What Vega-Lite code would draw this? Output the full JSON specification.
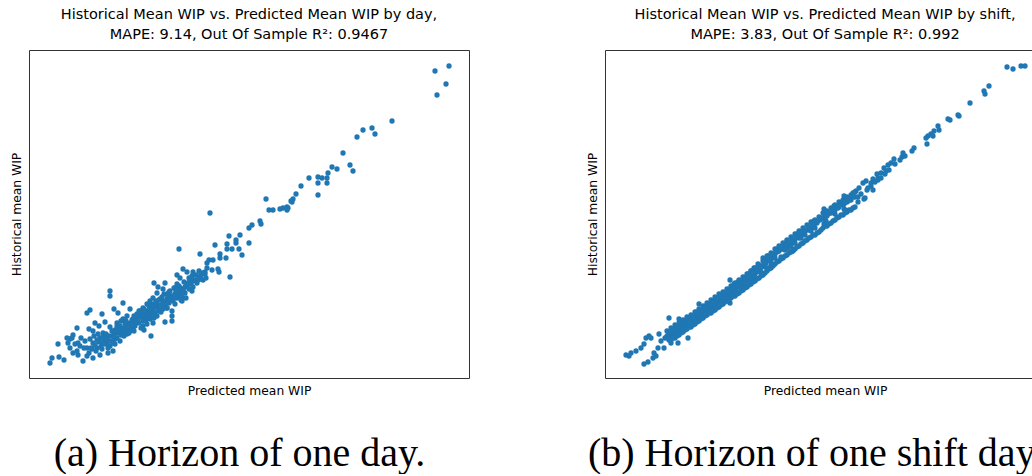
{
  "$schema": "https://vega.github.io/schema/vega-lite/v6.json",
  "background": "white",
  "padding": {"left": 9, "top": 6, "right": 0, "bottom": 0},
  "config": {
    "font": "DejaVu Sans",
    "view": {"stroke": "#333333", "strokeWidth": 1},
    "axis": {"labels": false, "ticks": false, "domain": false, "grid": false, "titleFont": "DejaVu Sans", "titleFontSize": 12.3, "titleFontWeight": "normal", "titleColor": "#000000", "titlePadding": 6},
    "title": {"font": "DejaVu Sans", "fontSize": 14.5, "fontWeight": "normal", "color": "#000000"},
    "concat": {"spacing": 115}
  },
  "datasets": {
    "day": [
      {"predicted": 406, "historical": 307}, {"predicted": 420, "historical": 312}, {"predicted": 417, "historical": 294}, {"predicted": 408, "historical": 283},
      {"predicted": 363, "historical": 257}, {"predicted": 328, "historical": 241}, {"predicted": 334, "historical": 248}, {"predicted": 343, "historical": 250},
      {"predicted": 346, "historical": 244}, {"predicted": 314, "historical": 225}, {"predicted": 321, "historical": 213}, {"predicted": 324, "historical": 207},
      {"predicted": 303, "historical": 211}, {"predicted": 308, "historical": 209}, {"predicted": 299, "historical": 205}, {"predicted": 280, "historical": 200},
      {"predicted": 289, "historical": 201}, {"predicted": 293, "historical": 200}, {"predicted": 298, "historical": 200}, {"predicted": 289, "historical": 195},
      {"predicted": 298, "historical": 195}, {"predicted": 272, "historical": 192}, {"predicted": 289, "historical": 183}, {"predicted": 267, "historical": 184},
      {"predicted": 264, "historical": 179}, {"predicted": 262, "historical": 177}, {"predicted": 237, "historical": 179}, {"predicted": 240, "historical": 168},
      {"predicted": 244, "historical": 168}, {"predicted": 251, "historical": 169}, {"predicted": 254, "historical": 170}, {"predicted": 258, "historical": 171},
      {"predicted": 259, "historical": 170}, {"predicted": 181, "historical": 165}, {"predicted": 258, "historical": 168}, {"predicted": 263, "historical": 176},
      {"predicted": 231, "historical": 157}, {"predicted": 232, "historical": 154}, {"predicted": 223, "historical": 153}, {"predicted": 220, "historical": 150},
      {"predicted": 211, "historical": 143}, {"predicted": 200, "historical": 142}, {"predicted": 207, "historical": 138}, {"predicted": 207, "historical": 135},
      {"predicted": 198, "historical": 134}, {"predicted": 198, "historical": 129}, {"predicted": 203, "historical": 129}, {"predicted": 210, "historical": 129},
      {"predicted": 213, "historical": 123}, {"predicted": 220, "historical": 135}, {"predicted": 186, "historical": 133}, {"predicted": 191, "historical": 124},
      {"predicted": 191, "historical": 120}, {"predicted": 184, "historical": 118}, {"predicted": 180, "historical": 118}, {"predicted": 178, "historical": 115},
      {"predicted": 197, "historical": 120}, {"predicted": 171, "historical": 124}, {"predicted": 150, "historical": 129}, {"predicted": 183, "historical": 108},
      {"predicted": 189, "historical": 109}, {"predicted": 190, "historical": 106}, {"predicted": 201, "historical": 101}, {"predicted": 176, "historical": 104},
      {"predicted": 172, "historical": 99}, {"predicted": 170, "historical": 107}, {"predicted": 164, "historical": 106}, {"predicted": 154, "historical": 109},
      {"predicted": 158, "historical": 106}, {"predicted": 148, "historical": 103}, {"predicted": 151, "historical": 100}, {"predicted": 162, "historical": 97},
      {"predicted": 164, "historical": 97}, {"predicted": 158, "historical": 94}, {"predicted": 148, "historical": 94}, {"predicted": 146, "historical": 90},
      {"predicted": 151, "historical": 90}, {"predicted": 154, "historical": 89}, {"predicted": 163, "historical": 87}, {"predicted": 136, "historical": 95},
      {"predicted": 125, "historical": 95}, {"predicted": 134, "historical": 89}, {"predicted": 141, "historical": 87}, {"predicted": 129, "historical": 91},
      {"predicted": 128, "historical": 85}, {"predicted": 138, "historical": 84}, {"predicted": 143, "historical": 82}, {"predicted": 148, "historical": 82},
      {"predicted": 153, "historical": 77}, {"predicted": 154, "historical": 80}, {"predicted": 144, "historical": 79}, {"predicted": 138, "historical": 77},
      {"predicted": 131, "historical": 79}, {"predicted": 124, "historical": 80}, {"predicted": 121, "historical": 77}, {"predicted": 128, "historical": 74},
      {"predicted": 134, "historical": 74}, {"predicted": 138, "historical": 70}, {"predicted": 143, "historical": 67}, {"predicted": 134, "historical": 69},
      {"predicted": 124, "historical": 70}, {"predicted": 118, "historical": 74}, {"predicted": 114, "historical": 70}, {"predicted": 111, "historical": 67},
      {"predicted": 118, "historical": 67}, {"predicted": 123, "historical": 64}, {"predicted": 109, "historical": 62}, {"predicted": 114, "historical": 60},
      {"predicted": 121, "historical": 59}, {"predicted": 124, "historical": 55}, {"predicted": 136, "historical": 56}, {"predicted": 143, "historical": 57},
      {"predicted": 143, "historical": 62}, {"predicted": 101, "historical": 69}, {"predicted": 94, "historical": 75}, {"predicted": 81, "historical": 87},
      {"predicted": 81, "historical": 82}, {"predicted": 85, "historical": 69}, {"predicted": 89, "historical": 65}, {"predicted": 98, "historical": 62},
      {"predicted": 104, "historical": 59}, {"predicted": 101, "historical": 55}, {"predicted": 106, "historical": 54}, {"predicted": 114, "historical": 52},
      {"predicted": 115, "historical": 48}, {"predicted": 122, "historical": 42}, {"predicted": 94, "historical": 59}, {"predicted": 88, "historical": 55},
      {"predicted": 91, "historical": 52}, {"predicted": 98, "historical": 50}, {"predicted": 94, "historical": 47}, {"predicted": 89, "historical": 45},
      {"predicted": 98, "historical": 44}, {"predicted": 101, "historical": 47}, {"predicted": 104, "historical": 49}, {"predicted": 81, "historical": 51},
      {"predicted": 76, "historical": 56}, {"predicted": 73, "historical": 64}, {"predicted": 61, "historical": 68}, {"predicted": 58, "historical": 65},
      {"predicted": 48, "historical": 50}, {"predicted": 60, "historical": 49}, {"predicted": 64, "historical": 47}, {"predicted": 74, "historical": 45},
      {"predicted": 71, "historical": 40}, {"predicted": 78, "historical": 39}, {"predicted": 83, "historical": 42}, {"predicted": 88, "historical": 40},
      {"predicted": 91, "historical": 37}, {"predicted": 86, "historical": 34}, {"predicted": 81, "historical": 32}, {"predicted": 84, "historical": 27},
      {"predicted": 79, "historical": 25}, {"predicted": 73, "historical": 29}, {"predicted": 68, "historical": 30}, {"predicted": 64, "historical": 35},
      {"predicted": 61, "historical": 39}, {"predicted": 56, "historical": 37}, {"predicted": 58, "historical": 30}, {"predicted": 63, "historical": 29},
      {"predicted": 71, "historical": 23}, {"predicted": 64, "historical": 20}, {"predicted": 58, "historical": 22}, {"predicted": 54, "historical": 17},
      {"predicted": 49, "historical": 23}, {"predicted": 48, "historical": 27}, {"predicted": 44, "historical": 25}, {"predicted": 41, "historical": 30},
      {"predicted": 46, "historical": 34}, {"predicted": 49, "historical": 35}, {"predicted": 51, "historical": 32}, {"predicted": 41, "historical": 39},
      {"predicted": 38, "historical": 40}, {"predicted": 39, "historical": 35}, {"predicted": 44, "historical": 43}, {"predicted": 43, "historical": 40},
      {"predicted": 29, "historical": 34}, {"predicted": 30, "historical": 21}, {"predicted": 35, "historical": 18}, {"predicted": 23, "historical": 20},
      {"predicted": 21, "historical": 15},
      {"predicted": 62, "historical": 30}, {"predicted": 66, "historical": 33}, {"predicted": 70, "historical": 36}, {"predicted": 72, "historical": 31},
      {"predicted": 75, "historical": 38}, {"predicted": 78, "historical": 35}, {"predicted": 80, "historical": 42}, {"predicted": 82, "historical": 37},
      {"predicted": 85, "historical": 44}, {"predicted": 87, "historical": 40}, {"predicted": 90, "historical": 47}, {"predicted": 92, "historical": 43},
      {"predicted": 95, "historical": 50}, {"predicted": 97, "historical": 46}, {"predicted": 100, "historical": 53}, {"predicted": 102, "historical": 49},
      {"predicted": 104, "historical": 56}, {"predicted": 106, "historical": 52}, {"predicted": 108, "historical": 58}, {"predicted": 110, "historical": 55},
      {"predicted": 112, "historical": 61}, {"predicted": 114, "historical": 57}, {"predicted": 116, "historical": 64}, {"predicted": 118, "historical": 60},
      {"predicted": 120, "historical": 66}, {"predicted": 122, "historical": 62}, {"predicted": 124, "historical": 68}, {"predicted": 126, "historical": 65},
      {"predicted": 128, "historical": 71}, {"predicted": 130, "historical": 67}, {"predicted": 132, "historical": 73}, {"predicted": 134, "historical": 77},
      {"predicted": 136, "historical": 72}, {"predicted": 138, "historical": 79}, {"predicted": 140, "historical": 75}, {"predicted": 142, "historical": 81},
      {"predicted": 144, "historical": 77}, {"predicted": 146, "historical": 84}, {"predicted": 148, "historical": 80}, {"predicted": 150, "historical": 86},
      {"predicted": 152, "historical": 82}, {"predicted": 154, "historical": 88}, {"predicted": 156, "historical": 85}, {"predicted": 158, "historical": 92},
      {"predicted": 160, "historical": 89}, {"predicted": 162, "historical": 94}, {"predicted": 164, "historical": 91}, {"predicted": 166, "historical": 98},
      {"predicted": 168, "historical": 95}, {"predicted": 170, "historical": 101}, {"predicted": 172, "historical": 103}, {"predicted": 174, "historical": 98},
      {"predicted": 176, "historical": 106}, {"predicted": 178, "historical": 110}, {"predicted": 112, "historical": 50}, {"predicted": 118, "historical": 54},
      {"predicted": 125, "historical": 60}, {"predicted": 100, "historical": 45}, {"predicted": 95, "historical": 42}, {"predicted": 105, "historical": 47},
      {"predicted": 88, "historical": 52}, {"predicted": 92, "historical": 57}, {"predicted": 108, "historical": 64}, {"predicted": 115, "historical": 69},
      {"predicted": 130, "historical": 78}, {"predicted": 135, "historical": 84}, {"predicted": 145, "historical": 90}, {"predicted": 150, "historical": 92},
      {"predicted": 155, "historical": 96}, {"predicted": 160, "historical": 100}, {"predicted": 140, "historical": 86}, {"predicted": 125, "historical": 74},
      {"predicted": 120, "historical": 72}, {"predicted": 110, "historical": 67}, {"predicted": 85, "historical": 38}, {"predicted": 78, "historical": 40},
      {"predicted": 68, "historical": 38}, {"predicted": 74, "historical": 41}, {"predicted": 96, "historical": 54}, {"predicted": 103, "historical": 58},
      {"predicted": 128, "historical": 62}, {"predicted": 132, "historical": 66}, {"predicted": 138, "historical": 70}, {"predicted": 146, "historical": 74},
      {"predicted": 152, "historical": 78}, {"predicted": 157, "historical": 80},
      {"predicted": 65, "historical": 42}, {"predicted": 69, "historical": 44}, {"predicted": 73, "historical": 35}, {"predicted": 77, "historical": 44},
      {"predicted": 79, "historical": 30}, {"predicted": 83, "historical": 47}, {"predicted": 86, "historical": 48}, {"predicted": 89, "historical": 50},
      {"predicted": 93, "historical": 46}, {"predicted": 96, "historical": 58}, {"predicted": 99, "historical": 52}, {"predicted": 103, "historical": 53},
      {"predicted": 107, "historical": 60}, {"predicted": 109, "historical": 57}, {"predicted": 113, "historical": 65}, {"predicted": 117, "historical": 58},
      {"predicted": 119, "historical": 64}, {"predicted": 121, "historical": 69}, {"predicted": 123, "historical": 73}, {"predicted": 127, "historical": 77},
      {"predicted": 129, "historical": 69}, {"predicted": 131, "historical": 72}, {"predicted": 133, "historical": 81}, {"predicted": 137, "historical": 75},
      {"predicted": 139, "historical": 82}, {"predicted": 141, "historical": 78}, {"predicted": 145, "historical": 82}, {"predicted": 147, "historical": 87},
      {"predicted": 149, "historical": 89}, {"predicted": 153, "historical": 85}, {"predicted": 156, "historical": 91}, {"predicted": 159, "historical": 95},
      {"predicted": 161, "historical": 98}, {"predicted": 163, "historical": 102}, {"predicted": 167, "historical": 103}, {"predicted": 169, "historical": 98},
      {"predicted": 173, "historical": 105}, {"predicted": 177, "historical": 100}, {"predicted": 115, "historical": 62}, {"predicted": 105, "historical": 62},
      {"predicted": 97, "historical": 57}, {"predicted": 91, "historical": 49}, {"predicted": 84, "historical": 35}, {"predicted": 76, "historical": 34},
      {"predicted": 67, "historical": 27}, {"predicted": 60, "historical": 25}, {"predicted": 55, "historical": 30}, {"predicted": 52, "historical": 40},
      {"predicted": 70, "historical": 52}, {"predicted": 66, "historical": 55}
    ],
    "shift": [
      {"predicted": 402, "historical": 311}, {"predicted": 408, "historical": 309}, {"predicted": 416, "historical": 312}, {"predicted": 420, "historical": 312},
      {"predicted": 384, "historical": 292}, {"predicted": 379, "historical": 287}, {"predicted": 380, "historical": 284}, {"predicted": 365, "historical": 275},
      {"predicted": 353, "historical": 263}, {"predicted": 354, "historical": 262}, {"predicted": 343, "historical": 259}, {"predicted": 345, "historical": 258},
      {"predicted": 333, "historical": 252}, {"predicted": 334, "historical": 248}, {"predicted": 329, "historical": 247}, {"predicted": 326, "historical": 244},
      {"predicted": 323, "historical": 242}, {"predicted": 321, "historical": 240}, {"predicted": 328, "historical": 242}, {"predicted": 322, "historical": 234},
      {"predicted": 309, "historical": 230}, {"predicted": 307, "historical": 227}, {"predicted": 298, "historical": 225}, {"predicted": 297, "historical": 221},
      {"predicted": 289, "historical": 219}, {"predicted": 286, "historical": 215}, {"predicted": 283, "historical": 213}, {"predicted": 279, "historical": 210},
      {"predicted": 281, "historical": 207}, {"predicted": 276, "historical": 205}, {"predicted": 272, "historical": 204}, {"predicted": 273, "historical": 200},
      {"predicted": 268, "historical": 199}, {"predicted": 266, "historical": 195}, {"predicted": 261, "historical": 197}, {"predicted": 258, "historical": 195},
      {"predicted": 263, "historical": 190}, {"predicted": 273, "historical": 198}, {"predicted": 254, "historical": 190}, {"predicted": 251, "historical": 187},
      {"predicted": 248, "historical": 185}, {"predicted": 253, "historical": 181}, {"predicted": 259, "historical": 179}, {"predicted": 239, "historical": 182},
      {"predicted": 243, "historical": 178}, {"predicted": 236, "historical": 175}, {"predicted": 233, "historical": 172}, {"predicted": 229, "historical": 172},
      {"predicted": 239, "historical": 169}, {"predicted": 219, "historical": 169}, {"predicted": 253, "historical": 176}, {"predicted": 243, "historical": 177},
      {"predicted": 239, "historical": 174}, {"predicted": 240, "historical": 168}, {"predicted": 233, "historical": 170}, {"predicted": 229, "historical": 167},
      {"predicted": 223, "historical": 164}, {"predicted": 219, "historical": 162}, {"predicted": 221, "historical": 157}, {"predicted": 219, "historical": 154},
      {"predicted": 209, "historical": 157}, {"predicted": 208, "historical": 152}, {"predicted": 204, "historical": 149}, {"predicted": 199, "historical": 147},
      {"predicted": 196, "historical": 144}, {"predicted": 194, "historical": 140}, {"predicted": 189, "historical": 137}, {"predicted": 186, "historical": 134},
      {"predicted": 183, "historical": 130}, {"predicted": 188, "historical": 127}, {"predicted": 178, "historical": 129}, {"predicted": 173, "historical": 127},
      {"predicted": 168, "historical": 124}, {"predicted": 163, "historical": 122}, {"predicted": 158, "historical": 120}, {"predicted": 166, "historical": 117},
      {"predicted": 163, "historical": 110}, {"predicted": 158, "historical": 104}, {"predicted": 153, "historical": 114}, {"predicted": 149, "historical": 110},
      {"predicted": 146, "historical": 107}, {"predicted": 143, "historical": 104}, {"predicted": 139, "historical": 100}, {"predicted": 134, "historical": 97},
      {"predicted": 129, "historical": 94}, {"predicted": 126, "historical": 90}, {"predicted": 125, "historical": 98}, {"predicted": 123, "historical": 87},
      {"predicted": 125, "historical": 75}, {"predicted": 119, "historical": 84}, {"predicted": 114, "historical": 80}, {"predicted": 109, "historical": 77},
      {"predicted": 104, "historical": 74}, {"predicted": 99, "historical": 70}, {"predicted": 94, "historical": 74}, {"predicted": 96, "historical": 65},
      {"predicted": 91, "historical": 64}, {"predicted": 86, "historical": 60}, {"predicted": 81, "historical": 57}, {"predicted": 76, "historical": 54},
      {"predicted": 73, "historical": 50}, {"predicted": 69, "historical": 47}, {"predicted": 66, "historical": 44}, {"predicted": 63, "historical": 40},
      {"predicted": 64, "historical": 60}, {"predicted": 74, "historical": 59}, {"predicted": 83, "historical": 40}, {"predicted": 73, "historical": 35},
      {"predicted": 66, "historical": 35}, {"predicted": 59, "historical": 30}, {"predicted": 54, "historical": 44}, {"predicted": 56, "historical": 37},
      {"predicted": 53, "historical": 30}, {"predicted": 49, "historical": 25}, {"predicted": 48, "historical": 20}, {"predicted": 44, "historical": 42},
      {"predicted": 46, "historical": 40}, {"predicted": 41, "historical": 40}, {"predicted": 39, "historical": 34}, {"predicted": 36, "historical": 30},
      {"predicted": 31, "historical": 27}, {"predicted": 26, "historical": 25}, {"predicted": 21, "historical": 23}, {"predicted": 24, "historical": 22},
      {"predicted": 39, "historical": 14}, {"predicted": 43, "historical": 16}, {"predicted": 51, "historical": 22},
      {"predicted": 60, "historical": 40}, {"predicted": 62, "historical": 42}, {"predicted": 64, "historical": 41}, {"predicted": 65, "historical": 45},
      {"predicted": 67, "historical": 44}, {"predicted": 68, "historical": 46}, {"predicted": 70, "historical": 45}, {"predicted": 71, "historical": 48},
      {"predicted": 72, "historical": 47}, {"predicted": 74, "historical": 50}, {"predicted": 75, "historical": 49}, {"predicted": 76, "historical": 52},
      {"predicted": 77, "historical": 50}, {"predicted": 78, "historical": 53}, {"predicted": 79, "historical": 52}, {"predicted": 80, "historical": 55},
      {"predicted": 81, "historical": 53}, {"predicted": 82, "historical": 56}, {"predicted": 83, "historical": 55}, {"predicted": 84, "historical": 57},
      {"predicted": 85, "historical": 56}, {"predicted": 86, "historical": 58}, {"predicted": 87, "historical": 57}, {"predicted": 88, "historical": 60},
      {"predicted": 89, "historical": 59}, {"predicted": 90, "historical": 61}, {"predicted": 91, "historical": 60}, {"predicted": 92, "historical": 63},
      {"predicted": 93, "historical": 62}, {"predicted": 94, "historical": 64}, {"predicted": 95, "historical": 63}, {"predicted": 96, "historical": 66},
      {"predicted": 97, "historical": 64}, {"predicted": 98, "historical": 67}, {"predicted": 99, "historical": 66}, {"predicted": 100, "historical": 68},
      {"predicted": 101, "historical": 67}, {"predicted": 102, "historical": 70}, {"predicted": 103, "historical": 69}, {"predicted": 104, "historical": 71},
      {"predicted": 105, "historical": 70}, {"predicted": 106, "historical": 73}, {"predicted": 107, "historical": 72}, {"predicted": 108, "historical": 75},
      {"predicted": 109, "historical": 73}, {"predicted": 110, "historical": 76}, {"predicted": 111, "historical": 75}, {"predicted": 112, "historical": 77},
      {"predicted": 113, "historical": 76}, {"predicted": 114, "historical": 79}, {"predicted": 115, "historical": 78}, {"predicted": 116, "historical": 80},
      {"predicted": 117, "historical": 79}, {"predicted": 118, "historical": 81}, {"predicted": 119, "historical": 80}, {"predicted": 120, "historical": 83},
      {"predicted": 121, "historical": 82}, {"predicted": 122, "historical": 84}, {"predicted": 123, "historical": 83}, {"predicted": 124, "historical": 86},
      {"predicted": 125, "historical": 85}, {"predicted": 126, "historical": 87}, {"predicted": 127, "historical": 86}, {"predicted": 128, "historical": 89},
      {"predicted": 129, "historical": 88}, {"predicted": 130, "historical": 90}, {"predicted": 131, "historical": 89}, {"predicted": 132, "historical": 92},
      {"predicted": 133, "historical": 91}, {"predicted": 134, "historical": 93}, {"predicted": 135, "historical": 92}, {"predicted": 136, "historical": 95},
      {"predicted": 137, "historical": 94}, {"predicted": 138, "historical": 96}, {"predicted": 139, "historical": 95}, {"predicted": 140, "historical": 98},
      {"predicted": 141, "historical": 97}, {"predicted": 142, "historical": 99}, {"predicted": 143, "historical": 98}, {"predicted": 144, "historical": 101},
      {"predicted": 145, "historical": 100}, {"predicted": 146, "historical": 102}, {"predicted": 147, "historical": 101}, {"predicted": 148, "historical": 104},
      {"predicted": 149, "historical": 103}, {"predicted": 150, "historical": 105}, {"predicted": 152, "historical": 106}, {"predicted": 153, "historical": 108},
      {"predicted": 155, "historical": 109}, {"predicted": 156, "historical": 111}, {"predicted": 158, "historical": 112}, {"predicted": 159, "historical": 114},
      {"predicted": 161, "historical": 115}, {"predicted": 162, "historical": 117}, {"predicted": 164, "historical": 118}, {"predicted": 165, "historical": 120},
      {"predicted": 167, "historical": 121}, {"predicted": 168, "historical": 123}, {"predicted": 170, "historical": 124}, {"predicted": 172, "historical": 126},
      {"predicted": 174, "historical": 127}, {"predicted": 176, "historical": 129}, {"predicted": 178, "historical": 130}, {"predicted": 180, "historical": 132},
      {"predicted": 182, "historical": 133}, {"predicted": 184, "historical": 135}, {"predicted": 186, "historical": 136}, {"predicted": 188, "historical": 138},
      {"predicted": 190, "historical": 139}, {"predicted": 192, "historical": 141}, {"predicted": 194, "historical": 142}, {"predicted": 196, "historical": 144},
      {"predicted": 198, "historical": 145}, {"predicted": 200, "historical": 147}, {"predicted": 203, "historical": 148}, {"predicted": 206, "historical": 151},
      {"predicted": 209, "historical": 153}, {"predicted": 212, "historical": 155}, {"predicted": 215, "historical": 158}, {"predicted": 218, "historical": 160},
      {"predicted": 222, "historical": 162}, {"predicted": 226, "historical": 165}, {"predicted": 230, "historical": 168}, {"predicted": 234, "historical": 171},
      {"predicted": 238, "historical": 173}, {"predicted": 242, "historical": 176}, {"predicted": 246, "historical": 178}, {"predicted": 250, "historical": 181},
      {"predicted": 70, "historical": 50}, {"predicted": 72, "historical": 43}, {"predicted": 80, "historical": 50}, {"predicted": 82, "historical": 59},
      {"predicted": 90, "historical": 57}, {"predicted": 92, "historical": 66}, {"predicted": 100, "historical": 64}, {"predicted": 102, "historical": 73},
      {"predicted": 110, "historical": 72}, {"predicted": 112, "historical": 80}, {"predicted": 120, "historical": 79}, {"predicted": 122, "historical": 87},
      {"predicted": 130, "historical": 86}, {"predicted": 132, "historical": 95}, {"predicted": 140, "historical": 94}, {"predicted": 142, "historical": 102},
      {"predicted": 150, "historical": 101}, {"predicted": 152, "historical": 110}, {"predicted": 160, "historical": 111}, {"predicted": 162, "historical": 120},
      {"predicted": 170, "historical": 120}, {"predicted": 172, "historical": 129}, {"predicted": 180, "historical": 128}, {"predicted": 182, "historical": 137},
      {"predicted": 190, "historical": 135}, {"predicted": 192, "historical": 144}, {"predicted": 200, "historical": 143}, {"predicted": 210, "historical": 150},
      {"predicted": 220, "historical": 158}, {"predicted": 230, "historical": 164}, {"predicted": 64, "historical": 38}, {"predicted": 76, "historical": 46},
      {"predicted": 86, "historical": 54}, {"predicted": 96, "historical": 61}, {"predicted": 106, "historical": 68}, {"predicted": 116, "historical": 76},
      {"predicted": 126, "historical": 83}, {"predicted": 136, "historical": 90}, {"predicted": 146, "historical": 98}, {"predicted": 156, "historical": 106},
      {"predicted": 166, "historical": 113}, {"predicted": 176, "historical": 121}, {"predicted": 186, "historical": 132}, {"predicted": 196, "historical": 140},
      {"predicted": 206, "historical": 147},
      {"predicted": 62, "historical": 47}, {"predicted": 66, "historical": 50}, {"predicted": 70, "historical": 53}, {"predicted": 74, "historical": 55},
      {"predicted": 78, "historical": 58}, {"predicted": 82, "historical": 61}, {"predicted": 86, "historical": 63}, {"predicted": 90, "historical": 66},
      {"predicted": 94, "historical": 69}, {"predicted": 98, "historical": 72}, {"predicted": 102, "historical": 75}, {"predicted": 106, "historical": 78},
      {"predicted": 110, "historical": 81}, {"predicted": 114, "historical": 84}, {"predicted": 118, "historical": 86}, {"predicted": 122, "historical": 89},
      {"predicted": 126, "historical": 92}, {"predicted": 130, "historical": 95}, {"predicted": 134, "historical": 98}, {"predicted": 138, "historical": 101},
      {"predicted": 142, "historical": 104}, {"predicted": 146, "historical": 107}, {"predicted": 150, "historical": 110}, {"predicted": 154, "historical": 113},
      {"predicted": 158, "historical": 117}, {"predicted": 162, "historical": 122}, {"predicted": 166, "historical": 125}, {"predicted": 170, "historical": 129},
      {"predicted": 174, "historical": 132}, {"predicted": 178, "historical": 135}, {"predicted": 182, "historical": 138}, {"predicted": 186, "historical": 141},
      {"predicted": 190, "historical": 144}, {"predicted": 194, "historical": 147}, {"predicted": 198, "historical": 150}, {"predicted": 202, "historical": 153},
      {"predicted": 206, "historical": 156}, {"predicted": 210, "historical": 158}, {"predicted": 214, "historical": 161}, {"predicted": 218, "historical": 165},
      {"predicted": 222, "historical": 167}, {"predicted": 226, "historical": 170}, {"predicted": 230, "historical": 173}, {"predicted": 234, "historical": 176},
      {"predicted": 238, "historical": 178}, {"predicted": 242, "historical": 181}, {"predicted": 246, "historical": 183}, {"predicted": 250, "historical": 186},
      {"predicted": 66, "historical": 38}, {"predicted": 70, "historical": 40}, {"predicted": 74, "historical": 43}, {"predicted": 78, "historical": 46},
      {"predicted": 82, "historical": 49}, {"predicted": 86, "historical": 51}, {"predicted": 90, "historical": 54}, {"predicted": 94, "historical": 57},
      {"predicted": 98, "historical": 60}, {"predicted": 102, "historical": 63}, {"predicted": 106, "historical": 65}, {"predicted": 110, "historical": 68},
      {"predicted": 114, "historical": 71}, {"predicted": 118, "historical": 74}, {"predicted": 122, "historical": 77}, {"predicted": 126, "historical": 80},
      {"predicted": 130, "historical": 82}, {"predicted": 134, "historical": 85}, {"predicted": 138, "historical": 88}, {"predicted": 142, "historical": 91},
      {"predicted": 146, "historical": 94}, {"predicted": 150, "historical": 97}, {"predicted": 154, "historical": 100}, {"predicted": 158, "historical": 103},
      {"predicted": 162, "historical": 107}, {"predicted": 166, "historical": 110}, {"predicted": 170, "historical": 114}, {"predicted": 174, "historical": 117},
      {"predicted": 178, "historical": 120}, {"predicted": 182, "historical": 123}, {"predicted": 186, "historical": 126}, {"predicted": 190, "historical": 129},
      {"predicted": 194, "historical": 132}, {"predicted": 198, "historical": 135}, {"predicted": 202, "historical": 138}, {"predicted": 206, "historical": 141},
      {"predicted": 210, "historical": 143}, {"predicted": 214, "historical": 146}, {"predicted": 218, "historical": 150}, {"predicted": 222, "historical": 152},
      {"predicted": 226, "historical": 155}, {"predicted": 230, "historical": 158}, {"predicted": 234, "historical": 161}, {"predicted": 238, "historical": 163},
      {"predicted": 242, "historical": 166}, {"predicted": 246, "historical": 168}, {"predicted": 250, "historical": 171},
      {"predicted": 256, "historical": 184}, {"predicted": 262, "historical": 188}, {"predicted": 266, "historical": 192}, {"predicted": 270, "historical": 196},
      {"predicted": 276, "historical": 200}, {"predicted": 280, "historical": 204}, {"predicted": 284, "historical": 208}, {"predicted": 290, "historical": 214},
      {"predicted": 295, "historical": 218}, {"predicted": 300, "historical": 222}, {"predicted": 260, "historical": 180}, {"predicted": 268, "historical": 188},
      {"predicted": 64, "historical": 45}, {"predicted": 68, "historical": 48}, {"predicted": 72, "historical": 51}, {"predicted": 76, "historical": 53},
      {"predicted": 80, "historical": 56}, {"predicted": 84, "historical": 59}, {"predicted": 88, "historical": 61}, {"predicted": 92, "historical": 64},
      {"predicted": 96, "historical": 67}, {"predicted": 100, "historical": 70}, {"predicted": 104, "historical": 73}, {"predicted": 108, "historical": 76},
      {"predicted": 112, "historical": 79}, {"predicted": 116, "historical": 82}, {"predicted": 120, "historical": 84}, {"predicted": 124, "historical": 87},
      {"predicted": 128, "historical": 90}, {"predicted": 132, "historical": 93}, {"predicted": 136, "historical": 96}, {"predicted": 140, "historical": 99},
      {"predicted": 144, "historical": 102}, {"predicted": 148, "historical": 105}, {"predicted": 152, "historical": 108}, {"predicted": 156, "historical": 111},
      {"predicted": 160, "historical": 115}, {"predicted": 164, "historical": 120}, {"predicted": 168, "historical": 123}, {"predicted": 172, "historical": 127},
      {"predicted": 176, "historical": 130}, {"predicted": 180, "historical": 133}, {"predicted": 184, "historical": 136}, {"predicted": 188, "historical": 139},
      {"predicted": 192, "historical": 142}, {"predicted": 196, "historical": 145}, {"predicted": 200, "historical": 148}, {"predicted": 204, "historical": 151},
      {"predicted": 208, "historical": 154}, {"predicted": 212, "historical": 156}, {"predicted": 216, "historical": 159}, {"predicted": 220, "historical": 163},
      {"predicted": 224, "historical": 165}, {"predicted": 228, "historical": 168}, {"predicted": 232, "historical": 171}, {"predicted": 236, "historical": 174},
      {"predicted": 240, "historical": 176}, {"predicted": 244, "historical": 179}, {"predicted": 248, "historical": 181},
      {"predicted": 68, "historical": 40}, {"predicted": 72, "historical": 42}, {"predicted": 76, "historical": 45}, {"predicted": 80, "historical": 48},
      {"predicted": 84, "historical": 51}, {"predicted": 88, "historical": 53}, {"predicted": 92, "historical": 56}, {"predicted": 96, "historical": 59},
      {"predicted": 100, "historical": 62}, {"predicted": 104, "historical": 65}, {"predicted": 108, "historical": 67}, {"predicted": 112, "historical": 70},
      {"predicted": 116, "historical": 73}, {"predicted": 120, "historical": 76}, {"predicted": 124, "historical": 79}, {"predicted": 128, "historical": 82},
      {"predicted": 132, "historical": 84}, {"predicted": 136, "historical": 87}, {"predicted": 140, "historical": 90}, {"predicted": 144, "historical": 93},
      {"predicted": 148, "historical": 96}, {"predicted": 152, "historical": 99}, {"predicted": 156, "historical": 102}, {"predicted": 160, "historical": 105},
      {"predicted": 164, "historical": 109}, {"predicted": 168, "historical": 112}, {"predicted": 172, "historical": 116}, {"predicted": 176, "historical": 119},
      {"predicted": 180, "historical": 122}, {"predicted": 184, "historical": 125}, {"predicted": 188, "historical": 128}, {"predicted": 192, "historical": 131},
      {"predicted": 196, "historical": 134}, {"predicted": 200, "historical": 137}, {"predicted": 204, "historical": 140}, {"predicted": 208, "historical": 143},
      {"predicted": 212, "historical": 145}, {"predicted": 216, "historical": 148}, {"predicted": 220, "historical": 152}, {"predicted": 224, "historical": 154},
      {"predicted": 228, "historical": 157}, {"predicted": 232, "historical": 160}, {"predicted": 236, "historical": 163}, {"predicted": 240, "historical": 165},
      {"predicted": 244, "historical": 168}, {"predicted": 248, "historical": 170}
    ]
  },
  "hconcat": [
    {
      "title": {"text": "(a) Horizon of one day.", "orient": "bottom", "font": "Liberation Serif", "fontSize": 40, "fontWeight": "normal", "anchor": "middle", "offset": 37},
      "vconcat": [
        {
          "width": 440,
          "height": 328,
          "title": {"text": ["Historical Mean WIP vs. Predicted Mean WIP by day,", "MAPE: 9.14, Out Of Sample R²: 0.9467"], "lineHeight": 20, "offset": 8},
          "data": {"name": "day"},
          "mark": {"type": "circle", "size": 28, "opacity": 1, "color": "#1f77b4"},
          "encoding": {
            "x": {"field": "predicted", "type": "quantitative", "scale": {"domain": [0, 440], "nice": false, "zero": false}, "axis": {"title": "Predicted mean WIP"}},
            "y": {"field": "historical", "type": "quantitative", "scale": {"domain": [0, 328], "nice": false, "zero": false}, "axis": {"title": "Historical mean WIP"}}
          }
        }
      ]
    },
    {
      "title": {"text": "(b) Horizon of one shift day.", "orient": "bottom", "font": "Liberation Serif", "fontSize": 40, "fontWeight": "normal", "anchor": "middle", "offset": 37},
      "vconcat": [
        {
          "width": 440,
          "height": 328,
          "title": {"text": ["Historical Mean WIP vs. Predicted Mean WIP by shift,", "MAPE: 3.83, Out Of Sample R²: 0.992"], "lineHeight": 20, "offset": 8},
          "data": {"name": "shift"},
          "mark": {"type": "circle", "size": 28, "opacity": 1, "color": "#1f77b4"},
          "encoding": {
            "x": {"field": "predicted", "type": "quantitative", "scale": {"domain": [0, 440], "nice": false, "zero": false}, "axis": {"title": "Predicted mean WIP"}},
            "y": {"field": "historical", "type": "quantitative", "scale": {"domain": [0, 328], "nice": false, "zero": false}, "axis": {"title": "Historical mean WIP"}}
          }
        }
      ]
    }
  ]
}
